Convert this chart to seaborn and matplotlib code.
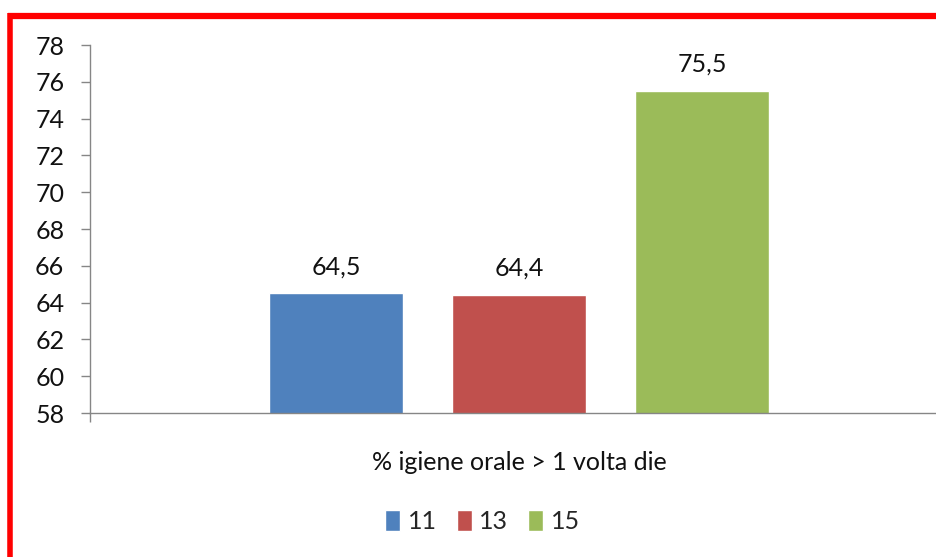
import matplotlib
matplotlib.use('Agg')
import matplotlib.pyplot as plt
import seaborn as sns
import pandas as pd
from matplotlib.lines import Line2D

# Dati
categoria = ['% igiene orale > 1 volta die']
gruppi = ['11', '13', '15']
valori = [64.5, 64.4, 75.5]
etichette = ['64,5', '64,4', '75,5']
colori = ['#4F81BD', '#C0504D', '#9BBB59']
tick_y = [58, 60, 62, 64, 66, 68, 70, 72, 74, 76, 78]

df = pd.DataFrame({'cat': categoria * len(gruppi), 'eta': gruppi, 'val': valori})

sns.set_style('white')
plt.rcParams['font.family'] = ['Lato', 'DejaVu Sans']

fig = plt.figure(figsize=(9.37, 5.57), dpi=100)
ax = fig.add_axes([0.096, 0.2585, 0.9157, 0.6605])

sns.barplot(data=df, x='cat', y='val', hue='eta', palette=colori, saturation=1,
            width=0.64, gap=0.27, ax=ax, legend=True)

for cont, lab in zip(ax.containers, etichette):
    ax.bar_label(cont, labels=[lab], padding=11, fontsize=18, color='#111111')

ax.set_ylim(58, 78)
ax.set_xlim(-0.5, 0.5)
ax.set_yticks(tick_y)
ax.set_yticklabels([str(t) for t in tick_y], fontsize=18, color='#111111')
ax.set_xticks([-0.5, 0.5])
ax.set_xticklabels(['', ''])
ax.set_xlabel(categoria[0], fontsize=18, color='#111111', labelpad=17)
ax.set_ylabel('')
ax.tick_params(axis='y', length=6.5, width=1, color='#868686', pad=12, left=True)
ax.tick_params(axis='x', length=6.5, width=1, color='#868686', bottom=True)

for s in ['top', 'right']:
    ax.spines[s].set_visible(False)
for s in ['left', 'bottom']:
    ax.spines[s].set_color('#868686')
    ax.spines[s].set_linewidth(1)

handles, labels = ax.get_legend_handles_labels()
ax.get_legend().remove()
fig.legend(handles, labels, loc='center', bbox_to_anchor=(0.515, 0.063), ncol=3,
           frameon=False, fontsize=18, handlelength=0.6, handleheight=0.9,
           handletextpad=0.3, columnspacing=0.8)

# bordo rosso
fig.add_artist(Line2D([8 / 937, 1], [1 - 16 / 557, 1 - 16 / 557], color='red',
                      lw=4.5, transform=fig.transFigure, solid_capstyle='butt'))
fig.add_artist(Line2D([10.5 / 937, 10.5 / 937], [0, 1 - 13 / 557], color='red',
                      lw=4, transform=fig.transFigure, solid_capstyle='butt'))

fig.savefig('out.png', dpi=100)
